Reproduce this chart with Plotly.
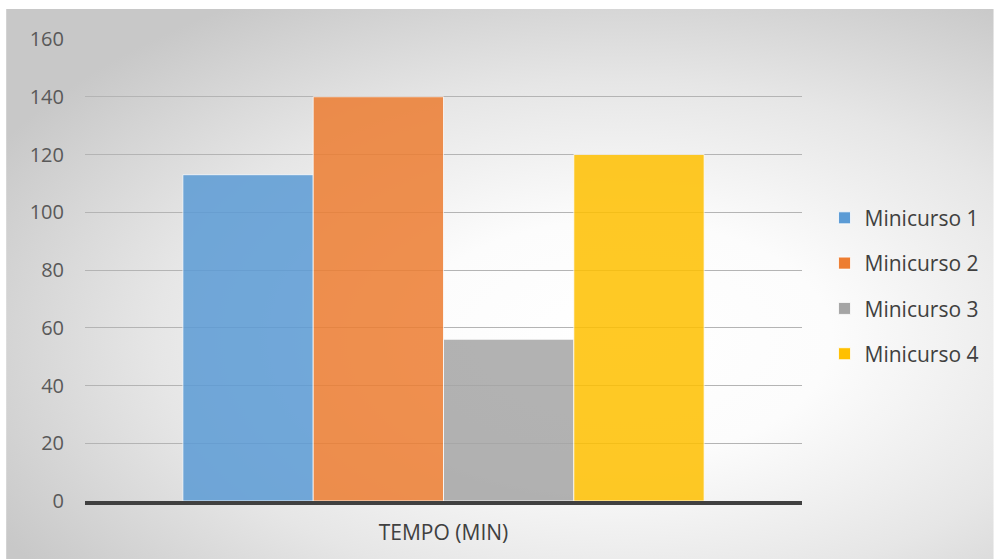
import base64
import plotly.graph_objects as go

# Data
category = ["TEMPO (MIN)"]
series_names = ["Minicurso 1", "Minicurso 2", "Minicurso 3", "Minicurso 4"]
series_values = [113, 140, 56, 120]
series_colors = ["#5B9BD5", "#ED7D31", "#A5A5A5", "#FFC000"]
y_ticks = [0, 20, 40, 60, 80, 100, 120, 140, 160]

FONT = "'Open Sans', Lato, sans-serif"

fig = go.Figure()
for i, (name, val, col) in enumerate(zip(series_names, series_values, series_colors)):
    fig.add_trace(go.Bar(
        x=category, y=[val], name=name,
        marker=dict(color=col, opacity=0.85,
                    line=dict(color="rgba(255,255,255,0.8)", width=1)),
        legendgroup=f"g{i}",
    ))

# Radial grey-to-white backdrop for the chart area
svg = """<svg xmlns='http://www.w3.org/2000/svg' width='989' height='550' viewBox='0 0 989 550' preserveAspectRatio='none'>
<defs><radialGradient id='g' cx='0.62' cy='0.6' r='0.72' fx='0.62' fy='0.6'>
<stop offset='0' stop-color='#ffffff'/>
<stop offset='0.3' stop-color='#fcfcfc'/>
<stop offset='0.65' stop-color='#e6e6e6'/>
<stop offset='1' stop-color='#c8c8c8'/>
</radialGradient></defs>
<rect x='0' y='0' width='989' height='550' fill='url(#g)'/>
</svg>"""
src = "data:image/svg+xml;base64," + base64.b64encode(svg.encode()).decode()

L, R, T, B = 85, 803, 39, 501
pw, ph = R - L, B - T
fig.add_layout_image(dict(
    source=src, xref="paper", yref="paper",
    x=(6 - L) / pw, y=1 + (T - 9) / ph,
    sizex=989 / pw, sizey=550 / ph,
    xanchor="left", yanchor="top", sizing="stretch", layer="below",
))

fig.update_layout(
    width=995, height=559,
    margin=dict(l=L, r=995 - R, t=T, b=559 - B),
    paper_bgcolor="white", plot_bgcolor="rgba(0,0,0,0)",
    barmode="group", bargap=0.273, bargroupgap=0,
    font=dict(family=FONT, color="#595959", size=20),
    legend=dict(
        x=1.03, xanchor="left", y=0.465, yanchor="middle",
        font=dict(size=21, color="#404040", family=FONT),
        tracegroupgap=15, bgcolor="rgba(0,0,0,0)",
    ),
    showlegend=True,
)
fig.update_yaxes(
    range=[0, 160], tickvals=y_ticks, showgrid=True,
    gridcolor="#b4b4b4", gridwidth=1, zeroline=False, showline=False,
    ticklabelstandoff=20, tickfont=dict(size=20, color="#595959"),
)
fig.update_xaxes(
    showline=True, linecolor="#404040", linewidth=4,
    tickfont=dict(size=21, color="#404040"), ticklabelstandoff=10,
)

fig.write_html("out.html")
